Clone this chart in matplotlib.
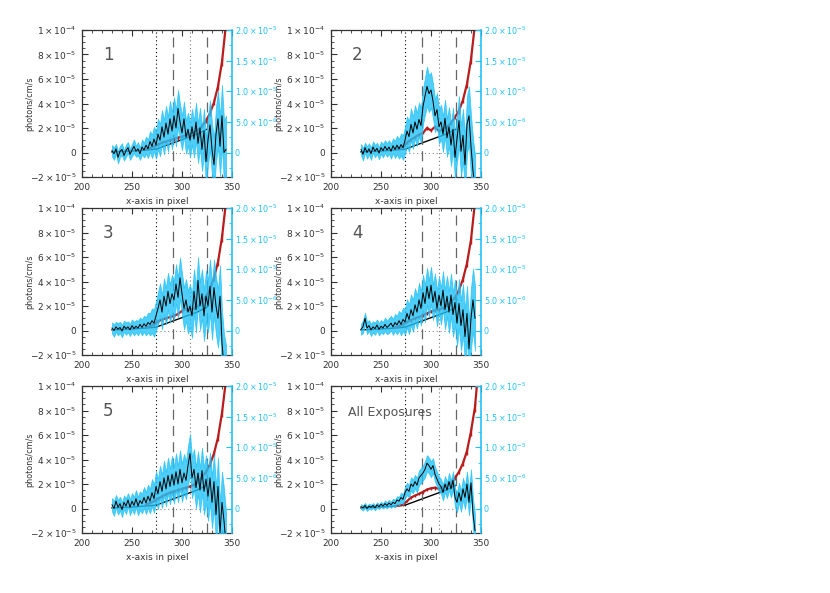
import numpy as np
import matplotlib.pyplot as plt
from matplotlib.ticker import MultipleLocator, FixedLocator, FixedFormatter

plt.rcParams['font.family'] = 'DejaVu Sans'
plt.rcParams['mathtext.fontset'] = 'dejavusans'

CYAN = '#22c2f7'
RED = '#b81c1c'
TXT = '#333333'

# pixel grid of the extracted spectra (every 2nd pixel)
pix = np.arange(230, 345, 2)

# flux on the right axis, units of 1e-6
flux1 = [0.3, -0.2, 0.6, -0.8, 0.2, 0.5, -0.5, 0.3, 0.8, -0.3,
         0.4, 1.0, 0.2, 0.6, -0.2, 0.9, 0.4, 1.2, 0.6, 1.8,
         1.0, 2.2, 1.2, 3.0, 2.0, 4.2, 2.5, 4.8, 3.0, 5.5,
         3.5, 6.0, 4.0, 7.2, 5.0, 3.2, 5.5, 2.5, 3.8, 2.0,
         4.2, 2.2, 5.0, 1.5, 4.0, 0.5, 3.5, -1.5, 2.0, 4.5,
         0.5, -2.0, 3.0, 5.5, 1.0, 6.0, 0.0, 0.5]
err1 = [0.9, 1.0, 0.8, 1.0, 0.9, 1.0, 0.8, 1.0, 0.9, 0.9,
        1.0, 1.1, 0.9, 1.1, 1.0, 1.2, 1.2, 1.4, 1.5, 1.7,
        1.9, 2.0, 2.2, 2.5, 2.6, 2.7, 2.8, 2.8, 2.9, 2.9,
        3.0, 3.0, 3.0, 3.0, 2.9, 2.8, 2.8, 2.7, 2.7, 2.8,
        2.9, 3.0, 3.1, 3.2, 3.3, 3.5, 3.6, 3.8, 3.9, 4.0,
        4.2, 4.3, 4.5, 4.6, 4.8, 5.0, 5.2, 5.5]

flux2 = [0.5, -0.3, 0.8, 0.0, 0.6, -0.2, 0.9, 0.2, 0.7, -0.1,
         0.8, 0.3, 1.0, 0.4, 0.9, 0.2, 1.1, 0.5, 1.2, 0.6,
         1.3, 0.8, 2.0, 3.5, 2.6, 4.6, 3.2, 5.0, 3.8, 5.4,
         4.4, 7.5, 9.2, 10.8, 9.6, 10.2, 8.4, 6.0, 7.0, 4.2,
         5.0, 3.0, 5.6, 2.4, 4.2, 1.2, 3.8, -0.8, 2.2, 5.2,
         0.2, 2.8, -2.0, 4.6, 6.0, 1.0, -3.0, -6.0]
err2 = [0.9, 1.0, 0.8, 1.0, 0.9, 1.0, 0.9, 1.0, 0.9, 1.0,
        1.0, 1.1, 1.0, 1.1, 1.1, 1.2, 1.2, 1.4, 1.5, 1.6,
        1.8, 2.0, 2.2, 2.4, 2.5, 2.6, 2.6, 2.7, 2.7, 2.8,
        2.8, 2.9, 3.0, 3.2, 3.0, 2.9, 2.8, 2.7, 2.7, 2.8,
        2.8, 2.9, 3.0, 3.1, 3.2, 3.4, 3.5, 3.6, 3.8, 4.0,
        4.1, 4.3, 4.5, 4.6, 4.8, 5.0, 5.2, 5.5]

flux3 = [0.4, 0.0, 0.6, 0.2, 0.5, -0.1, 0.7, 0.3, 0.6, 0.1,
         0.8, 0.3, 0.7, 0.4, 1.0, 0.5, 1.1, 0.7, 1.3, 1.0,
         1.6, 1.2, 2.4, 3.6, 5.0, 3.0, 5.6, 4.0, 6.4, 4.4,
         6.0, 5.0, 7.6, 5.4, 8.6, 6.0, 3.6, 5.0, 3.0, 4.0,
         2.4, 6.4, 3.4, 8.2, 4.0, 6.0, 2.4, 5.6, 4.0, 7.2,
         3.0, 7.0, 4.0, 2.0, 5.6, -2.0, -6.0, -8.0]
err3 = [0.9, 1.0, 0.8, 1.0, 0.9, 1.0, 0.9, 1.0, 0.9, 1.0,
        1.0, 1.1, 1.0, 1.2, 1.1, 1.3, 1.3, 1.5, 1.6, 1.8,
        2.0, 2.2, 2.4, 2.6, 2.7, 2.8, 2.9, 3.0, 3.0, 3.1,
        3.1, 3.2, 3.2, 3.3, 3.3, 3.3, 3.4, 3.4, 3.5, 3.5,
        3.6, 3.6, 3.7, 3.8, 3.9, 4.0, 4.1, 4.2, 4.3, 4.4,
        4.5, 4.6, 4.7, 4.8, 5.0, 5.2, 5.4, 5.6]

flux4 = [0.2, 0.6, 2.0, 0.4, 0.8, 0.1, 0.6, 0.3, 0.9, 0.2,
         0.7, 0.4, 1.0, 0.5, 0.8, 1.2, 0.6, 1.3, 0.9, 1.6,
         1.0, 1.8, 1.4, 2.8, 1.8, 3.4, 2.4, 4.2, 3.0, 5.0,
         3.6, 6.2, 4.4, 7.2, 5.2, 7.4, 4.6, 6.4, 3.6, 5.8,
         4.0, 6.6, 3.4, 5.6, 3.0, 5.8, 2.6, 4.6, 1.2, 4.4,
         0.8, 3.4, -1.0, 2.8, -3.0, 2.0, 5.0, 2.0]
err4 = [0.9, 1.0, 0.9, 1.0, 0.9, 1.0, 0.9, 1.0, 0.9, 1.0,
        1.0, 1.0, 1.1, 1.1, 1.2, 1.2, 1.3, 1.4, 1.5, 1.6,
        1.8, 1.9, 2.1, 2.3, 2.4, 2.5, 2.6, 2.7, 2.7, 2.8,
        2.8, 2.9, 3.0, 3.0, 3.0, 3.0, 2.9, 2.9, 2.9, 3.0,
        3.0, 3.1, 3.2, 3.3, 3.4, 3.5, 3.6, 3.7, 3.8, 4.0,
        4.1, 4.2, 4.4, 4.5, 4.7, 4.9, 5.1, 5.3]

flux5 = [0.6, 0.0, 1.2, 0.2, 0.8, -0.2, 1.0, 0.4, 1.4, 0.2,
         1.2, 0.5, 1.6, 0.4, 1.3, 0.8, 1.8, 0.9, 2.0, 1.2,
         2.6, 1.6, 3.6, 2.4, 4.4, 2.8, 5.0, 3.2, 5.4, 3.6,
         5.6, 3.8, 6.0, 4.0, 6.4, 4.2, 5.8, 4.6, 7.0, 9.0,
         5.0, 6.4, 3.4, 5.8, 3.0, 6.2, 2.8, 4.8, 2.0, 5.0,
         1.0, 4.4, -1.0, 3.6, -4.0, 1.0, -2.0, -6.0]
err5 = [1.1, 1.2, 1.0, 1.2, 1.1, 1.2, 1.1, 1.3, 1.1, 1.3,
        1.3, 1.4, 1.4, 1.5, 1.5, 1.6, 1.7, 1.8, 1.9, 2.0,
        2.2, 2.3, 2.4, 2.5, 2.6, 2.7, 2.8, 2.8, 2.9, 2.9,
        3.0, 3.0, 3.0, 3.0, 3.1, 3.1, 3.1, 3.1, 3.2, 3.2,
        3.3, 3.3, 3.4, 3.5, 3.6, 3.7, 3.8, 3.9, 4.0, 4.1,
        4.2, 4.4, 4.5, 4.7, 4.8, 5.0, 5.2, 5.4]

flux6 = [0.3, 0.1, 0.5, 0.0, 0.4, 0.2, 0.5, 0.1, 0.6, 0.3,
         0.7, 0.4, 0.8, 0.5, 0.9, 0.6, 1.0, 0.8, 1.4, 1.2,
         1.8, 1.5, 2.6, 3.2, 2.8, 4.0, 3.6, 4.4, 3.8, 5.0,
         5.4, 5.8, 6.4, 7.4, 7.0, 6.4, 7.0, 5.6, 4.8, 4.0,
         3.6, 2.6, 4.0, 3.0, 4.4, 3.2, 4.6, 1.8, 1.0, 2.6,
         1.2, 3.2, 1.8, 4.0, 1.0, 4.2, -0.8, -3.6]
err6 = [0.4, 0.4, 0.4, 0.4, 0.4, 0.4, 0.4, 0.4, 0.4, 0.4,
        0.4, 0.4, 0.5, 0.5, 0.5, 0.5, 0.6, 0.6, 0.6, 0.7,
        0.8, 0.8, 0.9, 1.0, 1.0, 1.1, 1.1, 1.1, 1.2, 1.2,
        1.2, 1.2, 1.3, 1.3, 1.3, 1.3, 1.2, 1.2, 1.2, 1.2,
        1.2, 1.3, 1.3, 1.3, 1.4, 1.4, 1.5, 1.5, 1.6, 1.6,
        1.7, 1.8, 1.9, 2.0, 2.1, 2.2, 2.4, 2.6]

# red model spectrum on the left axis, units of 1e-5
red_pix = np.arange(264, 349, 4)
red1 = [0.25, 0.35, 0.5, 0.65, 0.8, 0.9, 1.0, 1.1, 1.2, 1.3, 1.4,
        1.5, 1.65, 1.85, 2.15, 2.6, 3.2, 4.1, 5.4, 7.4, 10.5, 15.0]
red2 = [0.3, 0.35, 0.45, 0.8, 1.05, 1.25, 1.45, 1.6, 2.0, 1.8, 2.1,
        1.75, 1.9, 2.1, 2.4, 2.9, 3.4, 4.3, 5.6, 7.6, 10.5, 15.0]
red3 = [0.25, 0.35, 0.5, 0.75, 0.9, 1.0, 1.1, 1.2, 1.35, 1.6, 1.75,
        1.7, 1.8, 2.0, 2.3, 2.8, 3.4, 4.3, 5.6, 7.6, 10.5, 15.0]
red4 = [0.25, 0.35, 0.5, 0.7, 0.85, 1.0, 1.1, 1.25, 1.4, 1.55, 1.65,
        1.7, 1.85, 2.05, 2.3, 2.7, 3.3, 4.2, 5.5, 7.4, 10.5, 15.0]
red5 = [0.3, 0.45, 0.6, 0.8, 1.0, 1.15, 1.3, 1.4, 1.5, 1.6, 1.7,
        1.8, 1.95, 2.2, 2.55, 3.0, 3.6, 4.5, 5.8, 7.8, 10.5, 15.0]
red6 = [0.2, 0.25, 0.3, 0.6, 0.9, 1.05, 1.2, 1.35, 1.55, 1.65, 1.7,
        1.6, 1.75, 1.9, 2.1, 2.5, 3.0, 3.7, 4.7, 6.3, 8.3, 12.0]
red_err = [0.08, 0.08, 0.1, 0.1, 0.12, 0.12, 0.12, 0.13, 0.14, 0.14, 0.15,
           0.15, 0.16, 0.17, 0.18, 0.2, 0.22, 0.25, 0.3, 0.35, 0.4, 0.5]

# continuum (black smooth line), units of 1e-5
cont_x = [230, 240, 250, 260, 270, 275, 280, 285, 290, 295, 300, 305, 310, 315, 320, 325]
cont_y = [0.05, 0.08, 0.12, 0.18, 0.24, 0.3, 0.45, 0.6, 0.75, 0.9, 1.05, 1.2, 1.35, 1.5, 1.7, 1.9]

titles = ['1', '2', '3', '4', '5', 'All Exposures']

left_ticks = [-2e-5, 0, 2e-5, 4e-5, 6e-5, 8e-5, 1e-4]
left_labels = [r'$-2\times10^{-5}$', '0', r'$2\times10^{-5}$', r'$4\times10^{-5}$',
               r'$6\times10^{-5}$', r'$8\times10^{-5}$', r'$1\times10^{-4}$']
right_ticks = [0, 5e-6, 1e-5, 1.5e-5, 2e-5]
right_labels = ['0', r'$5.0\times10^{-6}$', r'$1.0\times10^{-5}$',
                r'$1.5\times10^{-5}$', r'$2.0\times10^{-5}$']

panels = [(flux1, err1, red1), (flux2, err2, red2), (flux3, err3, red3),
          (flux4, err4, red4), (flux5, err5, red5), (flux6, err6, red6)]

fig = plt.figure(figsize=(8.3, 5.93), dpi=100)
lefts = [82 / 830, 331 / 830]
bottoms = [(593 - 177) / 593, (593 - 355) / 593, (593 - 533) / 593]
w, h = 150 / 830, 147 / 593

for i, (flux, err, red) in enumerate(panels):
    flux = np.array(flux)
    err = np.array(err)
    ax = fig.add_axes([lefts[i % 2], bottoms[i // 2], w, h])
    ax.set_xlim(200, 350)
    ax.set_ylim(-2e-5, 1e-4)

    ax.plot(cont_x, np.array(cont_y) * 1e-5, color='k', lw=1.0)
    ax.errorbar(red_pix, np.array(red) * 1e-5, yerr=np.array(red_err) * 1e-5,
                color=RED, lw=1.6, elinewidth=1.0, capsize=0)
    ax.axvline(274, color='k', ls=(0, (1, 2.5)), lw=0.8)
    ax.axvline(291, color='#666666', ls=(0, (8, 5)), lw=0.9)
    ax.axvline(308, color='#777777', ls=(0, (1, 2.5)), lw=0.8)
    ax.axvline(325, color='#666666', ls=(0, (8, 5)), lw=0.9)
    ax.plot([274, 325], [0, 0], color='#888888', ls=(0, (1, 2.5)), lw=0.8)

    ax.xaxis.set_major_locator(MultipleLocator(50))
    ax.xaxis.set_minor_locator(MultipleLocator(10))
    ax.yaxis.set_major_locator(FixedLocator(left_ticks))
    ax.yaxis.set_major_formatter(FixedFormatter(left_labels))
    ax.yaxis.set_minor_locator(MultipleLocator(5e-6))
    ax.tick_params(which='both', direction='in', top=True, right=False,
                   labelsize=6.5, colors=TXT, pad=4)
    ax.tick_params(which='major', length=4, width=0.8)
    ax.tick_params(which='minor', length=2, width=0.6)
    for s in ['left', 'bottom', 'top']:
        ax.spines[s].set_color(TXT)
        ax.spines[s].set_linewidth(0.9)
    ax.spines['right'].set_visible(False)

    ax.set_xlabel('x-axis in pixel', fontsize=6.5, color=TXT)
    ax.set_ylabel('photons/cm/s', fontsize=5.8, color=TXT)
    ax.xaxis.set_label_coords(0.5, -20 / 147)
    ax.yaxis.set_label_coords(-48 / 150, 0.5)

    if titles[i] == 'All Exposures':
        ax.text(217, 7.8e-5, titles[i], fontsize=9, color='#555555', va='center')
    else:
        ax.text(221, 8.0e-5, titles[i], fontsize=12, color='#555555', va='center')

    ax2 = ax.twinx()
    ax2.set_ylim(-4e-6, 2e-5)
    ax2.fill_between(pix, (flux - err) * 1e-6, (flux + err) * 1e-6,
                     color=CYAN, alpha=0.8, lw=0.6)
    ax2.plot(pix, flux * 1e-6, color='k', lw=0.7)
    ax2.yaxis.set_major_locator(FixedLocator(right_ticks))
    ax2.yaxis.set_major_formatter(FixedFormatter(right_labels))
    ax2.yaxis.set_minor_locator(MultipleLocator(2.5e-6))
    ax2.tick_params(which='both', direction='in', labelsize=5.8,
                    colors=CYAN, pad=2)
    ax2.tick_params(which='major', length=4, width=0.8)
    ax2.tick_params(which='minor', length=2, width=0.6)
    for s in ['left', 'bottom', 'top']:
        ax2.spines[s].set_visible(False)
    ax2.spines['right'].set_color(CYAN)
    ax2.spines['right'].set_linewidth(1.2)

fig.savefig('out.png', dpi=100)
